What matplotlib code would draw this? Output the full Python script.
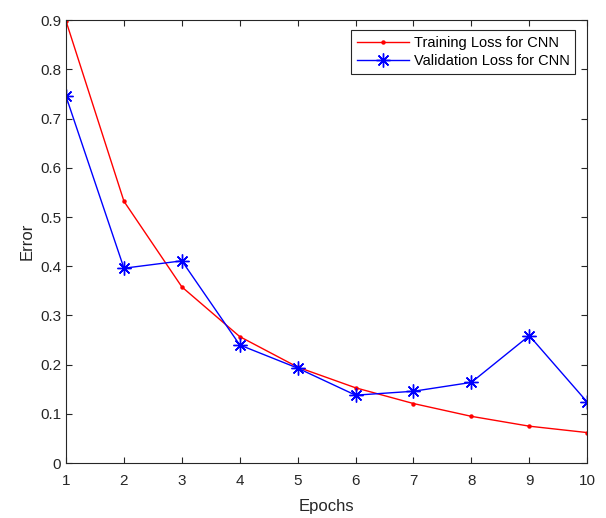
import matplotlib
matplotlib.use('Agg')
import matplotlib.pyplot as plt

#------------------------------
epochs = [1, 2, 3, 4, 5, 6, 7, 8, 9, 10]
train_loss = [0.898, 0.532, 0.358, 0.257, 0.195, 0.153, 0.121, 0.095, 0.075, 0.062]
val_loss = [0.745, 0.396, 0.411, 0.240, 0.193, 0.138, 0.146, 0.164, 0.259, 0.124]
#------------------------------

plt.rcParams['font.family'] = ['Liberation Sans', 'DejaVu Sans']
axcol = '#262626'

fig = plt.figure(figsize=(6.06, 5.18), dpi=100)
ax = fig.add_axes([0.109, 0.106, 0.860, 0.855])

ax.plot(epochs, train_loss, '-', c='red', lw=1.0, marker='o', markersize=2.2,
        label='Training Loss for CNN')
ax.plot(epochs, val_loss, '-', c='blue', lw=1.0, marker=(8, 2, 0), markersize=10,
        markeredgewidth=1.0, label='Validation Loss for CNN')

ax.set_xlim(1, 10)
ax.set_ylim(0, 0.9)
ax.set_xticks(range(1, 11))
ax.set_yticks([0, 0.1, 0.2, 0.3, 0.4, 0.5, 0.6, 0.7, 0.8, 0.9])
ax.set_yticklabels(['0', '0.1', '0.2', '0.3', '0.4', '0.5', '0.6', '0.7', '0.8', '0.9'])
ax.tick_params(direction='in', top=True, right=True, length=4, width=0.8,
               colors=axcol, labelsize=11, labelcolor=axcol)
ax.tick_params(axis='x', pad=8)
for s in ax.spines.values():
	s.set_color(axcol)
	s.set_linewidth(0.8)

ax.set_xlabel('Epochs', fontsize=12, color=axcol, labelpad=8)
ax.set_ylabel('Error', fontsize=12, color=axcol)

leg = ax.legend(loc='upper right', fontsize=10.5, fancybox=False, framealpha=1,
                edgecolor=axcol, borderpad=0.4, handlelength=3.6, handletextpad=0.3,
                labelspacing=0.25, borderaxespad=0, bbox_to_anchor=(0.977, 0.977))
leg.get_frame().set_linewidth(0.8)

fig.savefig('out.png', dpi=100)
